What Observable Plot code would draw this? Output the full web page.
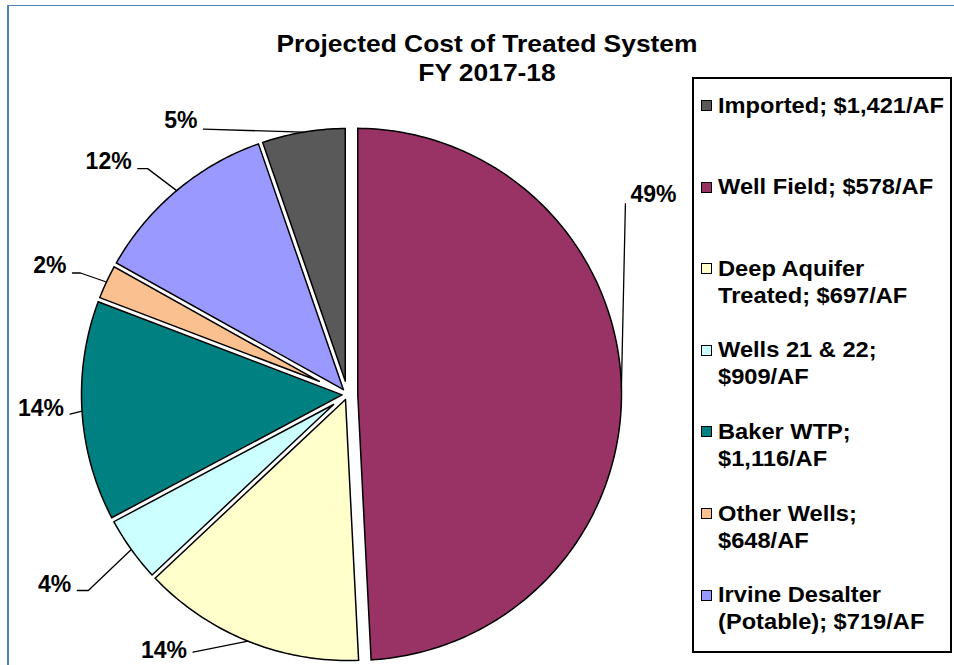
<!DOCTYPE html>
<html>
<head>
<meta charset="utf-8">
<script src="https://cdn.jsdelivr.net/npm/d3@7"></script>
<script src="https://cdn.jsdelivr.net/npm/@observablehq/plot@0.6"></script>
<style>
  body { margin: 0; background: #fff; }
  #wrap { position: relative; width: 954px; height: 665px; overflow: hidden; background: #fff;
          font-family: "Liberation Sans", Arial, sans-serif; color: #000; }
  #frame { position: absolute; left: 7px; top: 5px; width: 1000px; height: 700px;
           border-left: 2.5px solid #4f81bd; border-top: 1px solid #4f81bd; }
  #chart { position: absolute; left: 0; top: 0; }
  #title { position: absolute; left: 0; top: 29px; width: 974px; text-align: center; font-weight: bold;
           font-size: 24px; line-height: 29px; transform: scaleX(1.1); transform-origin: 487px 0; }
  #legendBox { position: absolute; left: 692px; top: 77px; width: 260px; height: 576px;
               box-sizing: border-box; border: 2px solid #000; }
  .sw { position: absolute; left: 701px; width: 11px; height: 11px; box-sizing: border-box; border: 1px solid #000; }
  .lt { position: absolute; left: 718px; width: 209px; font-weight: bold; font-size: 21.5px; line-height: 27px;
        transform: scaleX(1.1); transform-origin: 0 0; white-space: normal; }
</style>
</head>
<body>
<div id="wrap">
  <div id="frame"></div>
  <div id="chart"></div>
  <div id="title"></div>
  <div id="legendBox"></div>
</div>
<script>
// ---- data ----
const titleLines = ["Projected Cost of Treated System", "FY 2017-18"];
const categories = ["Imported", "Well Field", "Deep Aquifer Treated", "Wells 21 & 22", "Baker WTP", "Other Wells", "Irvine Desalter (Potable)"];
const costs = ["$1,421/AF", "$578/AF", "$697/AF", "$909/AF", "$1,116/AF", "$648/AF", "$719/AF"];
const shares = [5.3, 49.2, 13.8, 4.2, 13.6, 2.3, 11.6];
const colors = ["#595959", "#993366", "#FFFFCC", "#CCFFFF", "#008080", "#FAC090", "#9999FF"];

// ---- layout ----
const W = 954, H = 665, CX = 347, CY = 394, R = 266;
const firstSliceAngle = 340.92;       // degrees clockwise from 12 o'clock
const explodedCategory = "Well Field", explodePx = 8, gapPx = 4.5;
// per label: [dx, dy, elbowTail, textBaselineShift] in px (y down), from slice arc midpoint
const labelLayout = [
  [-100, -3, 0, -1],
  [4, -184, 0, -2],
  [-55, 11, 0, 6],
  [-54, 41, 11, 2],
  [-12, 3, 0, 2],
  [-34, -9, 8, 0],
  [-39, -22, 10, 0]
];
const legendFirstBaseline = 113.5, legendStep = 81.6;

const rad = d => d * Math.PI / 180;
let acc = firstSliceAngle;
const slices = categories.map((name, i) => {
  const a0 = acc, a1 = acc + shares[i] * 3.6; acc = a1;
  const mid = (a0 + a1) / 2;
  const e = (name === explodedCategory ? explodePx : 0) / R;
  return {name, i, a0, a1, mid, ox: e * Math.sin(rad(mid)), oy: e * Math.cos(rad(mid))};
});

const halfGap = gapPx / 2 / R;
const dDeg = Math.asin(halfGap) * 180 / Math.PI;
const polyPts = [];
for (const s of slices) {
  const tip = halfGap / Math.sin(rad(s.a1 - s.a0) / 2);
  const first = {name: s.name, x: s.ox + tip * Math.sin(rad(s.mid)), y: s.oy + tip * Math.cos(rad(s.mid))};
  polyPts.push(first);
  const n = Math.ceil(s.a1 - s.a0) + 2;
  for (let k = 0; k <= n; k++) {
    const t = s.a0 + dDeg + (s.a1 - s.a0 - 2 * dDeg) * k / n;
    polyPts.push({name: s.name, x: s.ox + Math.sin(rad(t)), y: s.oy + Math.cos(rad(t))});
  }
  polyPts.push({...first});
}

const labelRows = slices.map((s, i) => {
  const ax = s.ox + Math.sin(rad(s.mid)), ay = s.oy + Math.cos(rad(s.mid));
  const [dx, dy, tail, tdy] = labelLayout[i];
  const ex = ax + dx / R, ey = ay - dy / R;
  const side = dx < 0 ? -1 : 1;
  const bx = ex - side * tail / R;
  return {name: s.name, ax, ay, bx, ex, ey, tx: ex, ty: ey - tdy / R, side,
          text: Math.round(shares[i]) + "%"};
});
const leaderPts = labelRows.flatMap(d => [
  {name: d.name, x: d.ax, y: d.ay},
  {name: d.name, x: d.bx, y: d.ey},
  {name: d.name, x: d.ex, y: d.ey}
]);

const font = "'Liberation Sans', Arial, sans-serif";
const chart = Plot.plot({
  width: W, height: H,
  marginTop: 0, marginRight: 0, marginBottom: 0, marginLeft: 0,
  x: {domain: [-CX / R, (W - CX) / R], range: [0, W], axis: null},
  y: {domain: [-(H - CY) / R, CY / R], range: [H, 0], axis: null},
  color: {domain: categories, range: colors},
  style: {background: "transparent", overflow: "visible"},
  marks: [
    Plot.line(polyPts, {x: "x", y: "y", z: "name", fill: "name", stroke: "#000", strokeWidth: 1.5,
                        strokeLinejoin: "miter", strokeMiterlimit: 4}),
    Plot.line(leaderPts, {x: "x", y: "y", z: "name", stroke: "#000", strokeWidth: 1.3, strokeLinejoin: "miter"}),
    Plot.text(labelRows.filter(d => d.side < 0), {x: "tx", y: "ty", text: "text", textAnchor: "end", dx: -6,
      lineAnchor: "bottom", fontSize: 23, fontWeight: "bold", fontFamily: font, fill: "#000"}),
    Plot.text(labelRows.filter(d => d.side > 0), {x: "tx", y: "ty", text: "text", textAnchor: "start", dx: 5,
      lineAnchor: "bottom", fontSize: 23, fontWeight: "bold", fontFamily: font, fill: "#000"})
  ]
});
document.getElementById("chart").appendChild(chart);

// title
d3.select("#title").selectAll("div").data(titleLines).join("div").text(d => d);

// legend
const wrap = d3.select("#wrap");
const colorScale = chart.scale("color");
categories.forEach((name, i) => {
  const base = legendFirstBaseline + legendStep * i;
  wrap.append("div").attr("class", "sw")
    .style("top", (base - 13.5) + "px")
    .style("background", colorScale.apply(name));
  wrap.append("div").attr("class", "lt")
    .style("top", (base - 21) + "px")
    .text(name + "; " + costs[i]);
});
</script>
</body>
</html>
